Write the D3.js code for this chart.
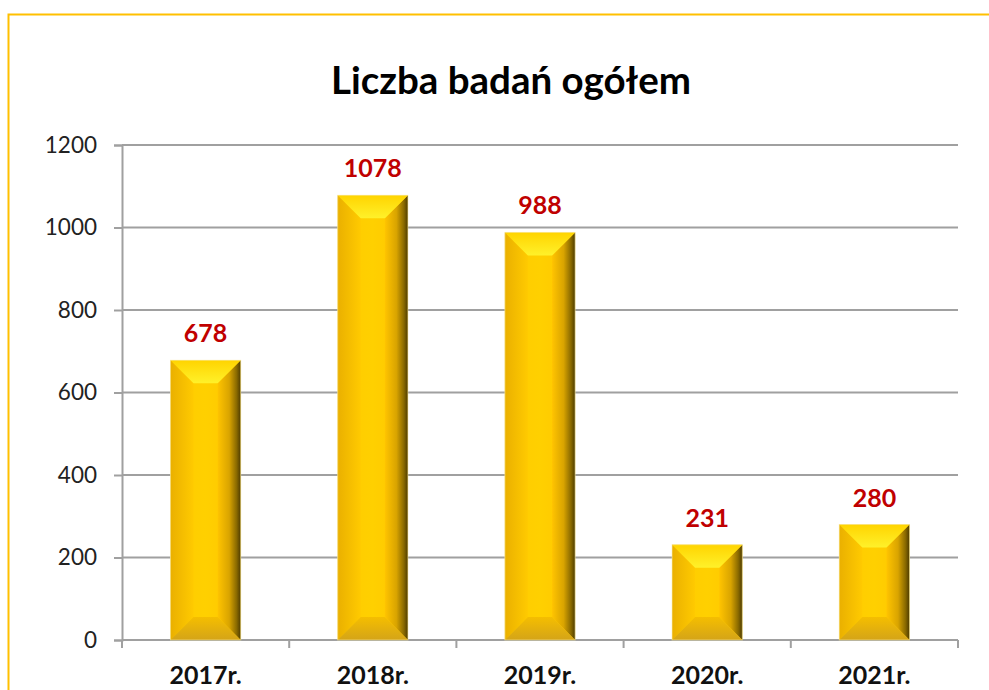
<!DOCTYPE html>
<html><head><meta charset="utf-8">
<script src="https://cdn.jsdelivr.net/npm/d3@7"></script>
<style>body{margin:0;background:#fff}svg{display:block}</style>
</head><body>
<script>
const categories = ["2017r.","2018r.","2019r.","2020r.","2021r."];
const values = [678,1078,988,231,280];
const yTicks = [0,200,400,600,800,1000,1200];
const title = "Liczba badań ogółem";

const W=989,H=690;
const svg=d3.select("body").append("svg").attr("width",W).attr("height",H);
const font="Lato, 'Open Sans', sans-serif";
const defs=svg.append("defs");
function grad(id,x2,y2,stops){
  const g=defs.append("linearGradient").attr("id",id).attr("x1",0).attr("y1",0).attr("x2",x2).attr("y2",y2);
  stops.forEach(s=>g.append("stop").attr("offset",s[0]).attr("stop-color",s[1]));
}
grad("face",1,0,[[0,"#F2B800"],[0.15,"#FFCC00"],[0.5,"#FFD000"],[0.85,"#FFC800"],[1,"#F5BE00"]]);
grad("top",0,1,[[0,"#FFD400"],[1,"#FFF12A"]]);
grad("bot",0,1,[[0,"#F5BE00"],[1,"#D4A418"]]);
grad("left",1,0,[[0,"#EAB000"],[1,"#FFCA00"]]);
grad("right",1,0,[[0,"#FFC400"],[0.5,"#D9A400"],[0.82,"#8A6A00"],[1,"#4E3C00"]]);

// outer border
svg.append("rect").attr("x",8.5).attr("y",14.5).attr("width",1000).attr("height",700)
  .attr("fill","none").attr("stroke","#FFC000").attr("stroke-width",2);

const x0=122,x1=958,yb=640,yt=145;
const x=d3.scaleBand().domain(categories).range([x0,x1]).paddingInner(0.58).paddingOuter(0.29);
const xb=d3.scaleBand().domain(categories).range([x0,x1]);
const y=d3.scaleLinear().domain([0,1200]).range([yb,yt]);

svg.append("text").attr("x",511).attr("y",94).attr("text-anchor","middle")
  .attr("font-family",font).attr("font-weight","bold").attr("font-size",38.5).attr("fill","#000").text(title);

// gridlines
svg.append("g").selectAll("line").data(yTicks.filter(d=>d>0)).join("line")
  .attr("x1",x0).attr("x2",x1).attr("y1",d=>y(d)).attr("y2",d=>y(d))
  .attr("stroke","#A0A0A0").attr("stroke-width",2);

// y axis
const ya=svg.append("g").attr("transform",`translate(${x0},0)`)
  .call(d3.axisLeft(y).tickValues(yTicks).tickFormat(d3.format("d")).tickSize(8).tickPadding(17));
ya.select(".domain").attr("stroke","#A0A0A0").attr("stroke-width",2);
ya.selectAll(".tick line").attr("stroke","#A0A0A0").attr("stroke-width",2);
ya.selectAll("text").attr("font-family",font).attr("font-size",22.5).attr("fill","#222");

// x axis
svg.append("line").attr("x1",x0).attr("x2",x1).attr("y1",yb).attr("y2",yb).attr("stroke","#A0A0A0").attr("stroke-width",2);
const bounds=categories.map(c=>xb(c)).concat([x1]);
svg.append("g").selectAll("line").data(bounds).join("line")
  .attr("x1",d=>d).attr("x2",d=>d).attr("y1",yb).attr("y2",yb+8).attr("stroke","#A0A0A0").attr("stroke-width",2);
svg.append("g").selectAll("text").data(categories).join("text")
  .attr("x",d=>xb(d)+xb.bandwidth()/2).attr("y",684).attr("text-anchor","middle")
  .attr("font-family",font).attr("font-weight","bold").attr("font-size",25).attr("fill","#111").text(d=>d);

// bars
const bars=svg.append("g").selectAll("g").data(values.map((v,i)=>({c:categories[i],v}))).join("g");
bars.each(function(d){
  const g=d3.select(this);
  const L=x(d.c),R=L+x.bandwidth(),T=y(d.v),B=yb;
  const b=Math.min(23,(R-L)/2,(B-T)/2);
  g.append("rect").attr("x",L).attr("y",T).attr("width",R-L).attr("height",B-T).attr("fill","url(#face)");
  const poly=(pts,f)=>g.append("polygon").attr("points",pts.map(p=>p.join(",")).join(" ")).attr("fill",f);
  poly([[L,T],[L+b,T+b],[L+b,B-b],[L,B]],"url(#left)");
  poly([[R,T],[R,B],[R-b,B-b],[R-b,T+b]],"url(#right)");
  poly([[L,T],[R,T],[R-b,T+b],[L+b,T+b]],"url(#top)");
  poly([[L,B],[R,B],[R-b,B-b],[L+b,B-b]],"url(#bot)");
  g.append("rect").attr("x",L).attr("y",T).attr("width",R-L).attr("height",B-T).attr("fill","none").attr("stroke","#F6E7A0").attr("stroke-width",1).attr("stroke-opacity",0.6);
  g.append("text").attr("x",(L+R)/2).attr("y",T-18).attr("text-anchor","middle")
   .attr("font-family",font).attr("font-weight","bold").attr("font-size",25).attr("fill","#C00000").text(d.v);
});
</script>
</body></html>
